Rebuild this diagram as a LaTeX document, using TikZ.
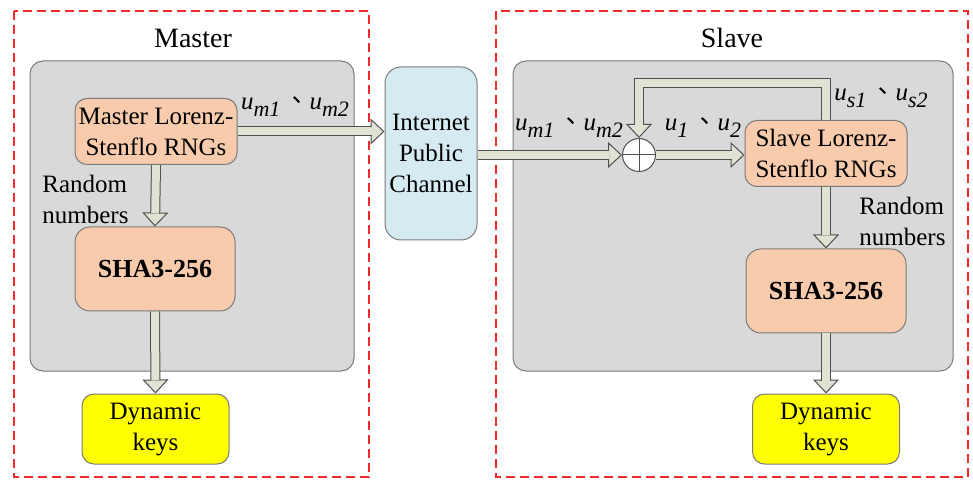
\documentclass[tikz,border=0pt]{standalone}
\usepackage{fontspec}
\setmainfont{Liberation Serif}
\newfontfamily\cjk{Noto Sans CJK TC}
\usepackage{tikz}
\usetikzlibrary{arrows.meta,calc,positioning}

\definecolor{framered}{HTML}{F42A2A}
\definecolor{panelgray}{HTML}{D9D9D9}
\definecolor{panelline}{HTML}{7A7A7A}
\definecolor{rngfill}{HTML}{F8CBAD}
\definecolor{chanfill}{HTML}{D5EBF1}
\definecolor{keyfill}{HTML}{FFFF00}
\definecolor{arrowfill}{HTML}{DEE3D3}
\definecolor{arrowline}{HTML}{505050}

% enumeration comma between the two signals
\newcommand\dunhao{\,{\cjk 、}}
\newcommand\uvar[1]{\textit{u}\raisebox{-3.5pt}{\fontsize{11}{11}\selectfont\textit{#1}}}
% block arrow head, tip at #2, coming from #1
\newcommand\fathead[2]{\draw[head] ($(#2)!7pt!(#1)$) -- (#2);}

\tikzset{
	every node/.style={font=\fontsize{12.5}{15.5}\selectfont},
	frame/.style={draw=framered, line width=1pt, dash pattern=on 4.5pt off 2.5pt},
	panel/.style={draw=panelline, fill=panelgray, line width=0.5pt, rounded corners=6.5pt},
	box/.style={draw=panelline, line width=0.5pt, align=center, inner sep=1pt},
	rng/.style={box, fill=rngfill, rounded corners=6pt, minimum width=81pt, minimum height=33pt},
	sha/.style={box, fill=rngfill, rounded corners=7.5pt, minimum width=80pt, minimum height=42pt, font=\fontsize{13}{15.5}\selectfont\bfseries},
	keys/.style={box, fill=keyfill, rounded corners=6pt, minimum width=73.5pt, minimum height=35pt},
	chan/.style={box, fill=chanfill, rounded corners=8pt, minimum width=46pt, minimum height=86.5pt},
	xorgate/.style={circle, draw=arrowline, fill=white, line width=0.5pt, minimum size=16.5pt, inner sep=0pt},
	shaft/.style={draw=arrowline, line width=0.5pt, double=arrowfill, double distance=4pt, line join=miter, shorten >=6.5pt},
	head/.style={draw=arrowline, line width=0.5pt, -{Triangle[open, fill=arrowfill, width=13pt, length=7pt]}},
	lbl/.style={inner sep=1pt}
}

\begin{document}
\begin{tikzpicture}[x=0.5pt, y=-0.5pt]
	\useasboundingbox (0,0) rectangle (973,480);

	% master and slave sides
	\draw[frame] (14,11) rectangle (369,477);
	\draw[frame] (496,11) rectangle (968,477);
	\draw[panel] (30,61) rectangle (354,371);
	\draw[panel] (513,61) rectangle (953,371);
	\node[font=\fontsize{14}{16}\selectfont] (mtitle) at (193,38) {Master};
	\node[font=\fontsize{14}{16}\selectfont] (stitle) at (732,38) {Slave};

	\node[rng] (mrng) at (156,131.5) {Master Lorenz-\\Stenflo RNGs};
	\node[sha] (msha) at (155,269) {SHA3-256};
	\node[keys] (mkeys) at (155.5,429) {Dynamic\\keys};

	\node[chan] (chan) at (431,153.5) {Internet\\Public\\Channel};

	\node[xorgate] (xor) at (639,155) {};
	\draw[arrowline, line width=0.5pt] (xor.north) -- (xor.south) (xor.west) -- (xor.east);
	\node[rng] (srng) at (826,153.5) {Slave Lorenz-\\Stenflo RNGs};
	\node[sha] (ssha) at (826,291) {SHA3-256};
	\node[keys] (skeys) at (826,429) {Dynamic\\keys};
	\coordinate (fb) at (730,83.5);

	% labels
	\node[lbl] (mout) at (295,107) {\uvar{m1}\dunhao\uvar{m2}};
	\node[lbl] (sin) at (569,128) {\uvar{m1}\dunhao\uvar{m2}};
	\node[lbl] (sxor) at (703,128) {\uvar{1}\dunhao\uvar{2}};
	\node[lbl] (sfb) at (881,98) {\uvar{s1}\dunhao\uvar{s2}};
	\node[lbl, align=left, anchor=west] (mrand) at (40,199) {Random\\numbers};
	\node[lbl, align=left, anchor=west] (srand) at (857,221) {Random\\numbers};

	% heads first, shafts over their base lines
	\fathead{mrng.east}{mrng.east -| chan.west}
	\fathead{mrng.south}{msha.north}
	\fathead{msha.south}{mkeys.north}
	\fathead{chan.east |- xor.west}{xor.west}
	\fathead{xor.east}{srng.west |- xor.east}
	\fathead{fb -| xor.north}{xor.north}
	\fathead{srng.south}{ssha.north}
	\fathead{ssha.south}{skeys.north}

	\draw[shaft] (mrng.east) -- (mrng.east -| chan.west);
	\draw[shaft] (mrng.south) -- (msha.north);
	\draw[shaft] (msha.south) -- (mkeys.north);
	\draw[shaft] (chan.east |- xor.west) -- (xor.west);
	\draw[shaft] (xor.east) -- (srng.west |- xor.east);
	\draw[shaft] (srng.north) |- (fb) -| (xor.north);
	\draw[shaft] (srng.south) -- (ssha.north);
	\draw[shaft] (ssha.south) -- (skeys.north);
\end{tikzpicture}
\end{document}
